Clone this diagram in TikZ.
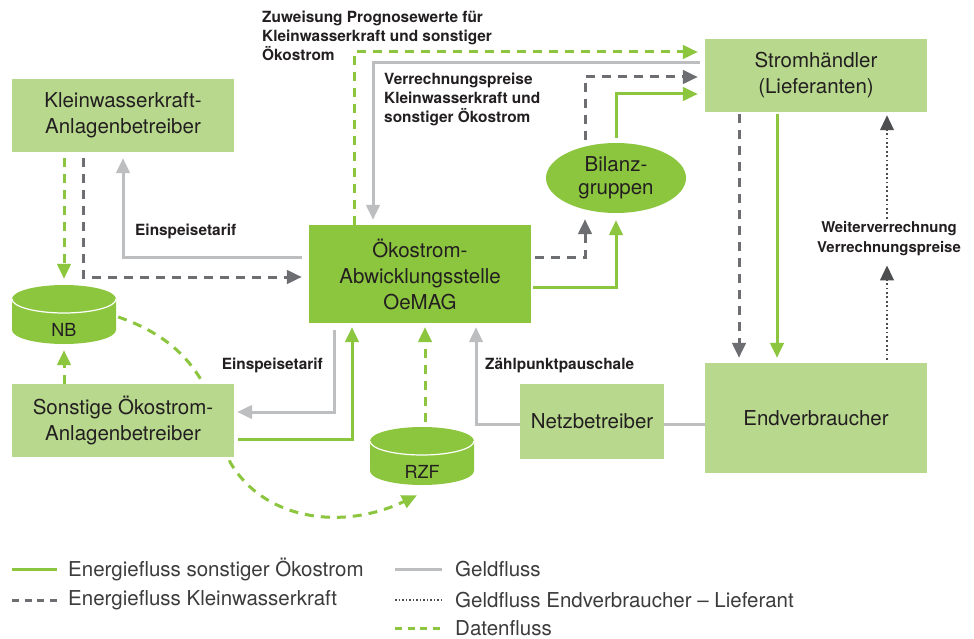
\documentclass[tikz,border=0pt]{standalone}
\usepackage{fontspec}
\setmainfont{TeX Gyre Heros}
\usetikzlibrary{arrows.meta,calc,shapes.geometric}
\definecolor{lgreen}{HTML}{B8D98D}
\definecolor{dgreen}{HTML}{8CC63F}
\definecolor{kgray}{HTML}{6D6E71}
\definecolor{ggray}{HTML}{BCBEC0}
\definecolor{dotgray}{HTML}{4D4E50}
\definecolor{txt}{HTML}{231F20}
\definecolor{legtxt}{HTML}{3C3C3C}
\pgfdeclarelayer{bg}
\pgfsetlayers{bg,main}
\tikzset{
  boxtext/.style={text=txt, align=center, inner sep=0, font=\fontsize{20.5}{26}\selectfont},
  lbox/.style={boxtext, fill=lgreen},
  dbox/.style={boxtext, fill=dgreen},
  lab/.style={font=\fontsize{15.4}{19}\bfseries\selectfont, text=txt, align=left, inner sep=0},
  legtext/.style={font=\fontsize{20.5}{24}\selectfont, text=legtxt, inner sep=0, anchor=west},
  tip/.style={-{Triangle[length=15pt,width=13.5pt]}},
  energy/.style={draw=dgreen, line width=3pt},
  kwk/.style={draw=kgray, line width=3pt, dash pattern=on 9pt off 7pt},
  geld/.style={draw=ggray, line width=3pt},
  data/.style={draw=dgreen, line width=3pt, dash pattern=on 9pt off 7pt},
  dotl/.style={draw=dotgray, line width=2.4pt, dash pattern=on 1.8pt off 2.6pt},
  cyltext/.style={text=txt, font=\fontsize{18}{20}\selectfont, inner sep=0},
}
\begin{document}
\begin{tikzpicture}[x=1pt,y=-1pt]
\useasboundingbox (0,0) rectangle (974,639);
\begin{pgfonlayer}{bg}
\fill[white] (0,0) rectangle (974,639);
\end{pgfonlayer}

% boxes
\node[lbox, minimum width=222pt, minimum height=73pt] (klein) at (123,115.5) {Kleinwasserkraft-\\Anlagenbetreiber};
\node[lbox, minimum width=222pt, minimum height=73pt] (sonst) at (123,420.5) {Sonstige Ökostrom-\\Anlagenbetreiber};
\node[dbox, minimum width=222pt, minimum height=98pt] (oemag) at (420,274) {Ökostrom-\\Abwicklungsstelle\\OeMAG};
\node[lbox, minimum width=222pt, minimum height=73pt] (strom) at (816,75.5) {Stromhändler\\(Lieferanten)};
\node[lbox, minimum width=222pt, minimum height=110pt] (endv) at (816,418) {Endverbraucher};
\node[lbox, minimum width=144pt, minimum height=75pt] (netz) at (592,421.5) {Netzbetreiber};
\node[ellipse, fill=dgreen, minimum width=140pt, minimum height=70pt, text=txt, align=center, inner sep=0,
      font=\fontsize{20.5}{23}\selectfont] (bilanz) at (616,178) {Bilanz-\\gruppen};

% NB cylinder
\fill[dgreen] (12,299) -- (12,330) arc[start angle=180, end angle=360, x radius=52pt, y radius=14pt] -- (116,299) -- cycle;
\fill[dgreen] (64,299) ellipse[x radius=52pt, y radius=14pt];
\draw[white, line width=1.2pt] (12,299) arc[start angle=180, end angle=360, x radius=52pt, y radius=14pt];
\node[inner sep=0, minimum width=104pt, minimum height=59pt] (nb) at (64,314.5) {};
\node[cyltext] (nbt) at (64,330) {NB};

% RZF cylinder
\fill[dgreen] (370,441) -- (370,471) arc[start angle=180, end angle=360, x radius=52pt, y radius=14pt] -- (474,441) -- cycle;
\fill[dgreen] (422,441) ellipse[x radius=52pt, y radius=14pt];
\draw[white, line width=1.2pt] (370,441) arc[start angle=180, end angle=360, x radius=52pt, y radius=14pt];
\node[inner sep=0, minimum width=104pt, minimum height=58pt] (rzf) at (422,456) {};
\node[cyltext] (rzft) at (422,472) {RZF};

% labels
\node[lab, anchor=west] (l1) at (135,231) {Einspeisetarif};
\node[lab, anchor=west] (l2) at (262,36) {Zuweisung Prognosewerte für\\Kleinwasserkraft und sonstiger\\Ökostrom};
\node[lab, anchor=west] (l3) at (384,99) {Verrechnungspreise\\Kleinwasserkraft und\\sonstiger Ökostrom};
\node[lab, anchor=east] (l4) at (323,365) {Einspeisetarif};
\node[lab, anchor=west] (l5) at (485,366) {Zählpunktpauschale};
\node[lab, align=center, font=\fontsize{14.9}{20}\bfseries\selectfont] (wv) at (889,239) {Weiterverrechnung\\Verrechnungspreise};

% connectors
\draw[data, tip, shorten <=6pt, shorten >=6pt] (klein.south -| nb.north) -- (nb.north);
\draw[kwk, tip, shorten <=6pt, shorten >=7pt] ($(klein.south)+(-40,0)$) |- ($(oemag.west)+(0,3)$);
\draw[geld, tip, shorten <=7pt, shorten >=6pt] ($(oemag.west)+(0,-17)$) -| (klein.south);
\draw[data, tip, shorten >=7pt] ($(oemag.north)+(-66,0)$) |- ($(strom.west)+(0,-23.5)$);
\draw[geld, tip, shorten <=5pt, shorten >=5pt] ($(strom.west)+(0,-12.5)$) -| ($(oemag.north)+(-47,0)$);
\draw[kwk, tip, shorten <=4pt, shorten >=6pt] ($(oemag.east)+(0,-17)$) -| ($(bilanz.south)+(-31,0)$);
\draw[kwk, tip, shorten <=3pt, shorten >=7pt] ($(bilanz.north)+(-31,0)$) |- ($(strom.west)+(0,1.5)$);
\draw[energy, tip, shorten <=2pt, shorten >=7pt] ($(oemag.east)+(0,13)$) -| (bilanz.south);
\draw[energy, tip, shorten <=5pt, shorten >=7pt] (bilanz.north) |- ($(strom.west)+(0,18.5)$);
\draw[kwk, tip, shorten <=2pt, shorten >=5pt] ($(strom.south)+(-77,0)$) -- ($(endv.north)+(-77,0)$);
\draw[energy, tip, shorten <=2pt, shorten >=5pt] ($(strom.south)+(-39,0)$) -- ($(endv.north)+(-39,0)$);
\coordinate (d1) at ($(endv.north)+(71,0)$);
\coordinate (d2) at ($(strom.south)+(71,0)$);
\draw[dotl, tip, shorten <=3pt, shorten >=9pt] (d1) -- (d1 |- wv.south);
\draw[dotl, tip, shorten <=3pt, shorten >=3pt] (d1 |- wv.north) -- (d2);
\coordinate (n1) at ($(netz.east)+(0,2.5)$);
\draw[geld] (n1) -- (n1 -| endv.west);
\draw[geld, tip, shorten >=4pt] ($(netz.west)+(0,2.5)$) -| ($(oemag.south)+(56,0)$);
\draw[geld, tip, shorten <=7pt, shorten >=3pt] ($(oemag.south)+(-86,0)$) |- ($(sonst.east)+(0,-8.5)$);
\draw[energy, tip, shorten <=4pt, shorten >=4pt] ($(sonst.east)+(0,18.5)$) -| ($(oemag.south)+(-68,0)$);
\coordinate (r1) at ($(rzf.north)+(3,0)$);
\draw[data, tip, shorten <=5pt, shorten >=4pt] (r1) -- (r1 |- oemag.south);
\draw[data, tip, shorten >=6pt] (sonst.north -| nb.south) -- (nb.south);
\begin{pgfonlayer}{bg}
\draw[data, tip] ($(nb.east)+(2,2.5)$) .. controls (200,345) and (215,400) .. (230,462)
  .. controls (265,522) and (345,530) .. ($(rzf.south)+(-5,10)$);
\end{pgfonlayer}

% legend
\draw[dgreen, line width=3pt] (12,569) -- (57,569);
\node[legtext] (g1) at (68,569) {Energiefluss sonstiger Ökostrom};
\draw[kgray, line width=3pt, dash pattern=on 7pt off 5.5pt] (12,600) -- (57,600);
\node[legtext] (g2) at (68,600) {Energiefluss Kleinwasserkraft};
\draw[ggray, line width=3pt] (395,569) -- (442,569);
\node[legtext] (g3) at (455,569) {Geldfluss};
\draw[dotgray, line width=2pt, dash pattern=on 1.5pt off 2pt] (395,600) -- (442,600);
\node[legtext] (g4) at (455,600) {Geldfluss Endverbraucher – Lieferant};
\draw[dgreen, line width=3pt, dash pattern=on 7pt off 5.5pt] (395,628) -- (442,628);
\node[legtext] (g5) at (455,628) {Datenfluss};
\end{tikzpicture}
\end{document}
